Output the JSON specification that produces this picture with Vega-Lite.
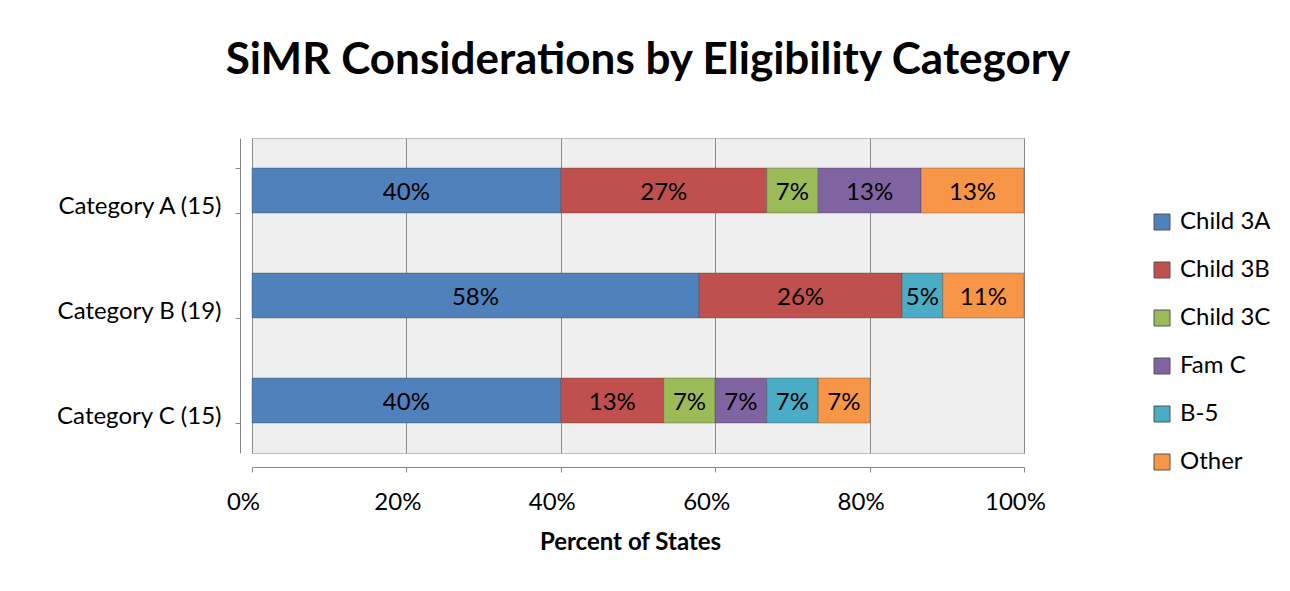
{
  "$schema": "https://vega.github.io/schema/vega-lite/v6.json",
  "width": 772,
  "height": 315,
  "autosize": {"type": "none"},
  "padding": {"left": 252, "top": 138, "right": 266, "bottom": 138},
  "background": "white",
  "title": {
    "text": "SiMR Considerations by Eligibility Category",
    "font": "Lato",
    "fontSize": 44,
    "fontWeight": "bold",
    "color": "#000000",
    "anchor": "middle",
    "dx": 10,
    "offset": 43
  },
  "data": {
    "values": [
      {"cat": "Category A (15)", "s": "Child 3A", "v": 0.4, "k": 1},
      {"cat": "Category A (15)", "s": "Child 3B", "v": 0.2667, "k": 2},
      {"cat": "Category A (15)", "s": "Child 3C", "v": 0.0667, "k": 3},
      {"cat": "Category A (15)", "s": "Fam C", "v": 0.1333, "k": 4},
      {"cat": "Category A (15)", "s": "Other", "v": 0.1333, "k": 6},
      {"cat": "Category B (19)", "s": "Child 3A", "v": 0.5789, "k": 1},
      {"cat": "Category B (19)", "s": "Child 3B", "v": 0.2632, "k": 2},
      {"cat": "Category B (19)", "s": "B-5", "v": 0.0526, "k": 5},
      {"cat": "Category B (19)", "s": "Other", "v": 0.1053, "k": 6},
      {"cat": "Category C (15)", "s": "Child 3A", "v": 0.4, "k": 1},
      {"cat": "Category C (15)", "s": "Child 3B", "v": 0.1333, "k": 2},
      {"cat": "Category C (15)", "s": "Child 3C", "v": 0.0667, "k": 3},
      {"cat": "Category C (15)", "s": "Fam C", "v": 0.0667, "k": 4},
      {"cat": "Category C (15)", "s": "B-5", "v": 0.0667, "k": 5},
      {"cat": "Category C (15)", "s": "Other", "v": 0.0667, "k": 6}
    ]
  },
  "encoding": {
    "y": {
      "field": "cat",
      "type": "nominal",
      "title": null,
      "scale": {"paddingInner": 0.57, "paddingOuter": 0.285},
      "axis": {
        "offset": 12,
        "labelFont": "Lato",
        "labelFontSize": 24,
        "labelColor": "#000000",
        "labelPadding": 14,
        "labelOffset": 16,
        "labelLimit": 300,
        "domainColor": "#868686",
        "tickColor": "#868686",
        "tickBand": "extent",
        "tickSize": 5,
        "grid": false
      }
    },
    "x": {
      "field": "v",
      "type": "quantitative",
      "stack": "zero",
      "title": "Percent of States",
      "scale": {"domain": [0, 1]},
      "axis": {
        "values": [0, 0.2, 0.4, 0.6, 0.8, 1],
        "format": ".0%",
        "offset": 14,
        "labelFont": "Lato",
        "labelFontSize": 24,
        "labelColor": "#000000",
        "labelPadding": 18,
        "labelOffset": -9,
        "labelFlush": false,
        "labelOverlap": false,
        "titleFont": "Lato",
        "titleFontSize": 24,
        "titleFontWeight": "bold",
        "titleColor": "#000000",
        "titlePadding": 16,
        "titleX": 378,
        "domainColor": "#868686",
        "tickColor": "#868686",
        "tickSize": 5,
        "grid": true,
        "gridColor": "#8a8a8a",
        "gridWidth": 1
      }
    },
    "order": {"field": "k", "type": "quantitative"}
  },
  "layer": [
    {
      "mark": {"type": "bar", "size": 45, "stroke": "#3a3a3a", "strokeOpacity": 0.35, "strokeWidth": 1},
      "encoding": {
        "color": {
          "field": "s",
          "type": "nominal",
          "title": null,
          "scale": {
            "domain": ["Child 3A", "Child 3B", "Child 3C", "Fam C", "B-5", "Other"],
            "range": ["#4F81BD", "#C0504D", "#9BBB59", "#8064A2", "#4BACC6", "#F79646"]
          },
          "legend": {
            "orient": "none",
            "legendX": 898,
            "legendY": 72,
            "symbolType": "square",
            "symbolSize": 256,
            "symbolStrokeWidth": 1,
            "symbolStrokeColor": "#555555",
            "symbolOpacity": 1,
            "labelFont": "Lato",
            "labelFontSize": 24,
            "labelColor": "#000000",
            "labelOffset": 6,
            "rowPadding": 24,
            "labelLimit": 200
          }
        }
      }
    },
    {
      "mark": {"type": "text", "font": "Lato", "fontSize": 24, "color": "#000000", "baseline": "middle", "align": "center", "dy": 2},
      "encoding": {
        "x": {"field": "v", "type": "quantitative", "stack": "zero", "bandPosition": 0.5},
        "text": {"field": "v", "type": "quantitative", "format": ".0%"}
      }
    }
  ],
  "config": {
    "view": {"fill": "#efefef", "stroke": "#bdbdbd"}
  }
}
